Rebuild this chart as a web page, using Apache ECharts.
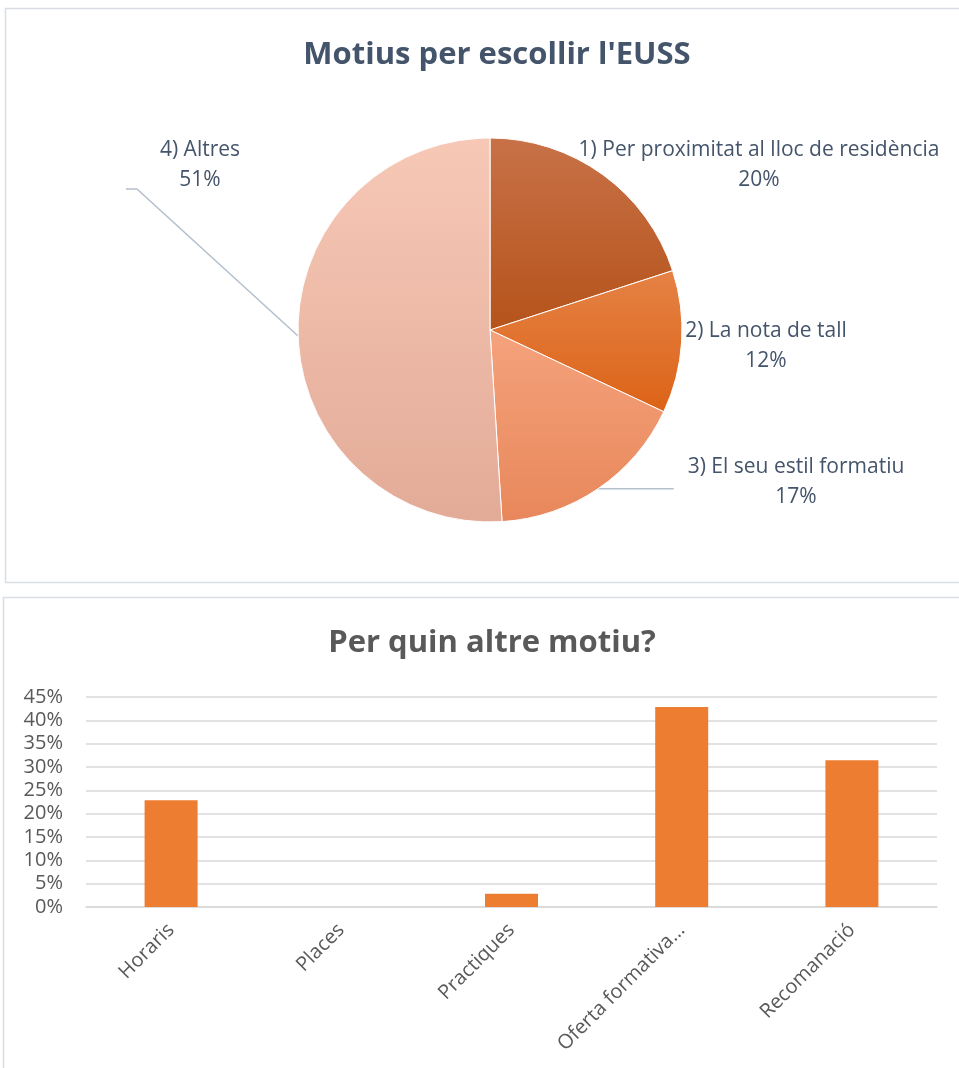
<!DOCTYPE html>
<html>
<head>
<meta charset="utf-8">
<title>Motius per escollir l'EUSS</title>
<script src="https://cdn.jsdelivr.net/npm/echarts@6/dist/echarts.min.js"></script>
<style>
  html, body { margin: 0; padding: 0; background: #fff; overflow: hidden; }
  #chart { width: 959px; height: 1068px; }
</style>
</head>
<body>
<div id="chart"></div>
<script>
// pastis: motius per escollir l'EUSS (%)
const pieNames = ['1) Per proximitat al lloc de residència', '2) La nota de tall', '3) El seu estil formatiu', '4) Altres'];
const pieValues = [20, 12, 17, 51];

// barres: per quin altre motiu (%)
const barCategories = ['Horaris', 'Places', 'Practiques', 'Oferta formativa…', 'Recomanació'];
const barValues = [22.86, 0, 2.86, 42.86, 31.43];

// eix Y: 0% .. 45% cada 5%
const yMin = 0, yMax = 45, yStep = 5;

// colors de degradat (dalt, baix) per cada porcio
const pieColors = [
  ['#c87148', '#b5531a'],
  ['#e58245', '#dc6317'],
  ['#f5a27c', '#e8875b'],
  ['#f7c8b6', '#e2ab97']
];
// on van les etiquetes del pastis (centre del text)
const pieLabelPos = [[759, 165], [766, 346], [796, 482], [200, 165]];

const textColor = '#44546a';
const axisColor = '#595959';
const font = '"Open Sans", "Noto Sans", sans-serif';

const chart = echarts.init(document.getElementById('chart'));

// linia guia: surt del punt mig de la porcio i va cap a l'etiqueta
function guidePoints(i, start, w, h) {
  const c = pieLabelPos[i];
  const left = c[0] - w / 2;
  if (i === 2) {
    return [start, [left - 14, start[1]]];
  }
  if (i === 3) {
    const y = c[1] + h / 2 - 6;
    return [start, [left - 23, y], [left - 34, y]];
  }
  return null;
}

const option = {
  animation: false,
  backgroundColor: '#fff',
  title: [
    {
      text: "Motius per escollir l'EUSS",
      left: 492, top: 35, textAlign: 'center',
      textStyle: { fontFamily: font, fontWeight: 'bold', fontSize: 31, color: textColor }
    },
    {
      text: 'Per quin altre motiu?',
      left: 487, top: 623, textAlign: 'center',
      textStyle: { fontFamily: font, fontWeight: 'bold', fontSize: 31, color: axisColor }
    }
  ],
  graphic: [
    { type: 'rect', silent: true, z: -10, shape: { x: 5.5, y: 8.5, width: 1000, height: 574 },
      style: { fill: 'none', stroke: '#d9dde3', lineWidth: 1.5 } },
    { type: 'rect', silent: true, z: -10, shape: { x: 3.5, y: 597.5, width: 1000, height: 520 },
      style: { fill: 'none', stroke: '#d9dde3', lineWidth: 1.5 } }
  ],
  grid: { left: 86, right: 22, top: 697, bottom: 161 },
  xAxis: {
    type: 'category',
    data: barCategories,
    axisLine: { lineStyle: { color: '#d9d9d9', width: 1.5 } },
    axisTick: { show: false },
    axisLabel: { rotate: 45, margin: 20, fontFamily: font, fontSize: 20, color: axisColor, interval: 0 }
  },
  yAxis: {
    type: 'value',
    min: yMin, max: yMax, interval: yStep,
    axisLine: { show: false },
    axisTick: { show: false },
    splitLine: { lineStyle: { color: '#d9d9d9', width: 1.5 } },
    axisLabel: { formatter: '{value}%', margin: 23, fontFamily: font, fontSize: 20, color: axisColor }
  },
  series: [
    {
      type: 'pie',
      center: [490, 330],
      radius: 192,
      startAngle: 90,
      clockwise: true,
      avoidLabelOverlap: false,
      data: pieNames.map((n, i) => ({
        name: n,
        value: pieValues[i],
        itemStyle: {
          color: new echarts.graphic.LinearGradient(0, 0, 0, 1, [
            { offset: 0, color: pieColors[i][0] },
            { offset: 1, color: pieColors[i][1] }
          ])
        },
        labelLine: { show: i >= 2 }
      })),
      itemStyle: { borderColor: '#fff', borderWidth: 1 },
      label: {
        show: true,
        formatter: '{b}\n{d}%',
        fontFamily: font, fontSize: 21, lineHeight: 30,
        color: textColor, align: 'center'
      },
      labelLine: { lineStyle: { color: '#b4c0cd', width: 1.5 }, length: 10, length2: 10 },
      labelLayout: function (params) {
        const i = params.dataIndex;
        const p = pieLabelPos[i];
        const res = { x: p[0], y: p[1], align: 'center', verticalAlign: 'middle' };
        if (params.labelLinePoints) {
          const pts = guidePoints(i, params.labelLinePoints[0], params.labelRect.width, params.labelRect.height);
          if (pts) res.labelLinePoints = pts;
        }
        return res;
      },
      emphasis: { disabled: true }
    },
    {
      type: 'bar',
      data: barValues,
      barWidth: 53,
      itemStyle: { color: '#ed7d31' }
    }
  ]
};

chart.setOption(option);
</script>
</body>
</html>
